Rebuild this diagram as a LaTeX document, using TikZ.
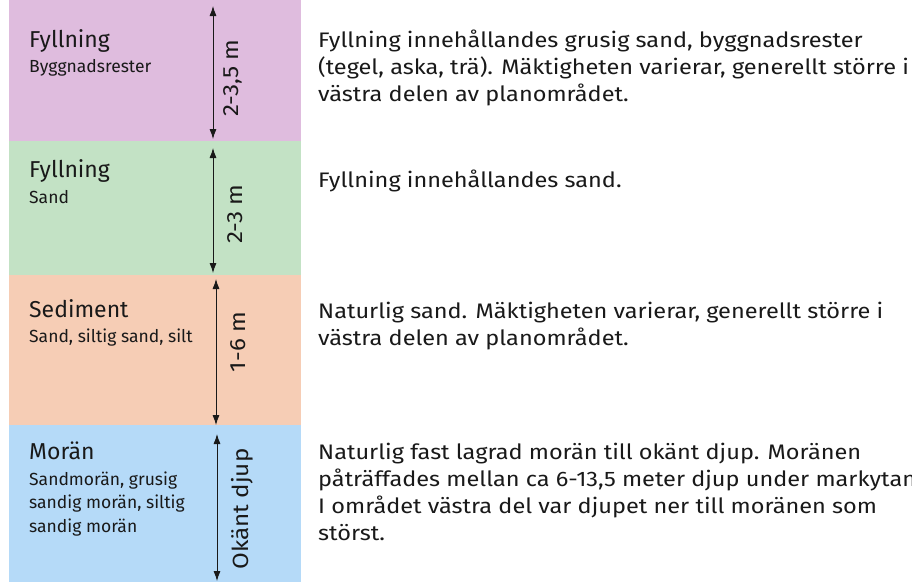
\documentclass[tikz,border=0pt]{standalone}
\usepackage{fontspec}
\setmainfont{Fira Sans}
\newfontfamily\descfont[FakeStretch=1.12]{Fira Sans}
\newfontfamily\dimfont[FakeStretch=1.1]{Fira Sans}
\usetikzlibrary{arrows.meta}
\definecolor{cpurple}{RGB}{223,188,222}
\definecolor{cgreen}{RGB}{195,226,197}
\definecolor{corange}{RGB}{246,205,181}
\definecolor{cblue}{RGB}{181,218,248}
\definecolor{ink}{RGB}{25,25,25}
\tikzset{
  layer/.style={fill=#1, draw=none},
  title/.style={anchor=base west, inner sep=0pt, font=\fontsize{23}{27}\selectfont, text=ink},
  sub/.style={anchor=base west, inner sep=0pt, font=\fontsize{17.5}{23.5}\selectfont, text=ink, align=left},
  desc/.style={anchor=base west, inner sep=0pt, font=\descfont\fontsize{21}{26.7}\selectfont, text=ink, align=left},
  dim/.style={anchor=base, inner sep=0pt, rotate=90, font=\dimfont\fontsize{22}{25}\selectfont, text=ink},
  dimarrow/.style={draw=ink, line width=0.8pt, {Latex[length=10pt,width=7pt]}-{Latex[length=10pt,width=7pt]}},
}
\begin{document}
\begin{tikzpicture}[x=1pt,y=-1pt]
\useasboundingbox (0,0) rectangle (912,582);
\fill[white] (0,0) rectangle (912,582);
% layers
\fill[layer=cpurple] (9,0) rectangle (301,141);
\fill[layer=cgreen] (9,141) rectangle (301,275);
\fill[layer=corange] (9,275) rectangle (301,425);
\fill[layer=cblue] (9,425) rectangle (301,582);
% arrows
\coordinate (a1t) at (213,6); \coordinate (a1b) at (213,139);
\coordinate (a2t) at (213,148); \coordinate (a2b) at (213,273);
\coordinate (a3t) at (216,279); \coordinate (a3b) at (216,425);
\coordinate (a4t) at (217,434); \coordinate (a4b) at (217,581);
\draw[dimarrow] (a1t) -- (a1b);
\draw[dimarrow] (a2t) -- (a2b);
\draw[dimarrow] (a3t) -- (a3b);
\draw[dimarrow] (a4t) -- (a4b);
\node[dim] (d1) at (238,78) {2-3,5 m};
\node[dim] (d2) at (242,214) {2-3 m};
\node[dim] (d3) at (245,342) {1-6 m};
\node[dim] (d4) at (248,509) {Okänt djup};
% left labels
\node[title] (t1) at (29,47) {Fyllning};
\node[sub] (s1) at (29,72) {Byggnadsrester};
\node[title] (t2) at (29,177) {Fyllning};
\node[sub] (s2) at (29,203) {Sand};
\node[title] (t3) at (29,317) {Sediment};
\node[sub] (s3) at (29,342) {Sand, siltig sand, silt};
\node[title] (t4) at (29,459) {Morän};
\node[sub] (s4) at (29,532) {Sandmorän, grusig\\sandig morän, siltig\\sandig morän};
% descriptions (anchored at baseline of last line)
\node[desc] (r1) at (318,101) {Fyllning innehållandes grusig sand, byggnadsrester\\(tegel, aska, trä). Mäktigheten varierar, generellt större i\\västra delen av planområdet.};
\node[desc] (r2) at (318,187) {Fyllning innehållandes sand.};
\node[desc] (r3) at (318,345) {Naturlig sand. Mäktigheten varierar, generellt större i\\västra delen av planområdet.};
\node[desc] (r4) at (318,540) {Naturlig fast lagrad morän till okänt djup. Moränen\\påträffades mellan ca 6-13,5 meter djup under markytan.\\I området västra del var djupet ner till moränen som\\störst.};
\end{tikzpicture}
\end{document}
